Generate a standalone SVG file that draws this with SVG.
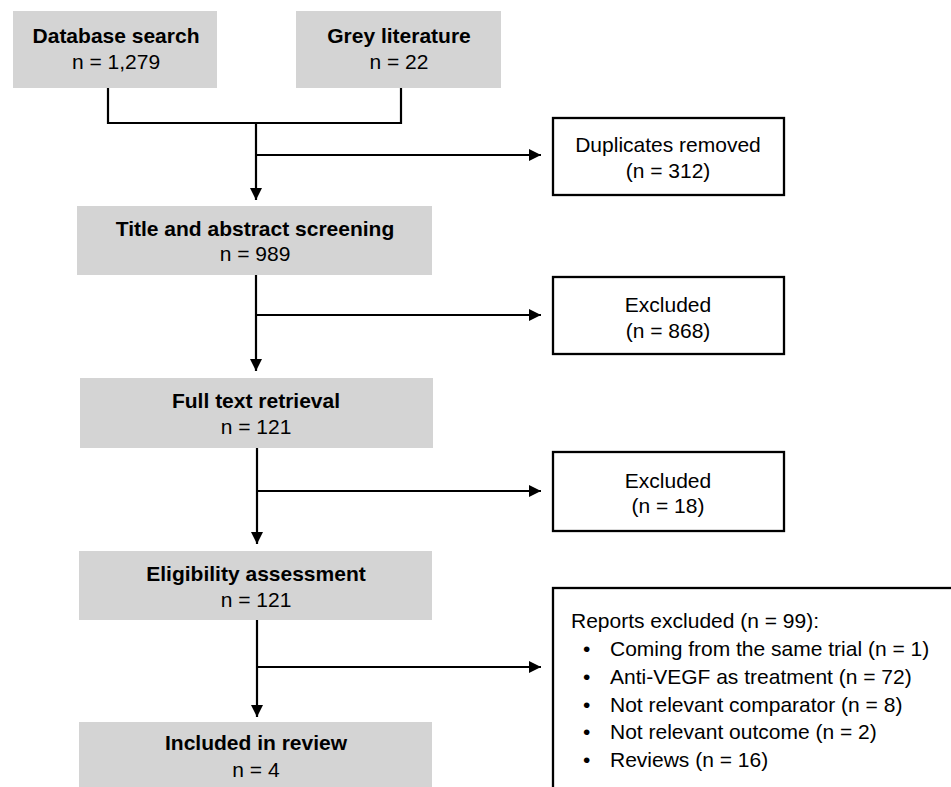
<svg xmlns="http://www.w3.org/2000/svg" width="951" height="787" viewBox="0 0 951 787">
<style>
.g{fill:#d4d4d4;stroke:none}
.w{fill:#fff;stroke:#000;stroke-width:2.3}
.t{font-family:"Liberation Sans",Arial,sans-serif;font-size:21px;fill:#000;text-anchor:middle}
.b{font-weight:bold}
.l{text-anchor:start}
.c{fill:none;stroke:#000;stroke-width:2.2}
</style>
<defs>
<marker id="ah" markerWidth="12" markerHeight="12" refX="12" refY="6" orient="auto" markerUnits="userSpaceOnUse">
<path d="M0,0 L12,6 L0,12 Z" fill="#000"/>
</marker>
</defs>
<rect width="951" height="787" fill="#fff"/>
<g id="connectors">
<path class="c" d="M108,88 V123 H401 V88"/>
<path class="c" d="M256,123 V200" marker-end="url(#ah)"/>
<path class="c" d="M256,155 H541" marker-end="url(#ah)"/>
<path class="c" d="M256,275 V371" marker-end="url(#ah)"/>
<path class="c" d="M256,315 H541" marker-end="url(#ah)"/>
<path class="c" d="M257,448 V544" marker-end="url(#ah)"/>
<path class="c" d="M257,491 H541" marker-end="url(#ah)"/>
<path class="c" d="M257,620 V717" marker-end="url(#ah)"/>
<path class="c" d="M257,667 H541" marker-end="url(#ah)"/>
</g>
<g id="database">
<rect class="g" x="13" y="11" width="204" height="77"/>
<text class="t b" x="116" y="43">Database search</text>
<text class="t" x="116" y="69">n = 1,279</text>
</g>
<g id="grey">
<rect class="g" x="296" y="11" width="205" height="77"/>
<text class="t b" x="399" y="43">Grey literature</text>
<text class="t" x="399" y="69">n = 22</text>
</g>
<g id="duplicates">
<rect class="w" x="553" y="118" width="231" height="77"/>
<text class="t" x="668" y="152">Duplicates removed</text>
<text class="t" x="668" y="178">(n = 312)</text>
</g>
<g id="screening">
<rect class="g" x="77" y="206" width="355" height="69"/>
<text class="t b" x="255" y="236">Title and abstract screening</text>
<text class="t" x="255" y="261">n = 989</text>
</g>
<g id="excluded1">
<rect class="w" x="553" y="277" width="231" height="77"/>
<text class="t" x="668" y="312">Excluded</text>
<text class="t" x="668" y="338">(n = 868)</text>
</g>
<g id="fulltext">
<rect class="g" x="80" y="378" width="353" height="70"/>
<text class="t b" x="256" y="408">Full text retrieval</text>
<text class="t" x="256" y="434">n = 121</text>
</g>
<g id="excluded2">
<rect class="w" x="553" y="452" width="231" height="79"/>
<text class="t" x="668" y="488">Excluded</text>
<text class="t" x="668" y="513">(n = 18)</text>
</g>
<g id="eligibility">
<rect class="g" x="79" y="551" width="353" height="69"/>
<text class="t b" x="256" y="581">Eligibility assessment</text>
<text class="t" x="256" y="607">n = 121</text>
</g>
<g id="reports">
<rect class="w" x="553" y="588" width="410" height="220"/>
<text class="t l" x="571" y="628">Reports excluded (n = 99):</text>
<text class="t l" x="583" y="656">•</text><text class="t l" x="610" y="656">Coming from the same trial (n = 1)</text>
<text class="t l" x="583" y="684">•</text><text class="t l" x="610" y="684">Anti-VEGF as treatment (n = 72)</text>
<text class="t l" x="583" y="712">•</text><text class="t l" x="610" y="712">Not relevant comparator (n = 8)</text>
<text class="t l" x="583" y="739">•</text><text class="t l" x="610" y="739">Not relevant outcome (n = 2)</text>
<text class="t l" x="583" y="767">•</text><text class="t l" x="610" y="767">Reviews (n = 16)</text>
</g>
<g id="included">
<rect class="g" x="79" y="722" width="353" height="80"/>
<text class="t b" x="256" y="750">Included in review</text>
<text class="t" x="256" y="777">n = 4</text>
</g>
</svg>
